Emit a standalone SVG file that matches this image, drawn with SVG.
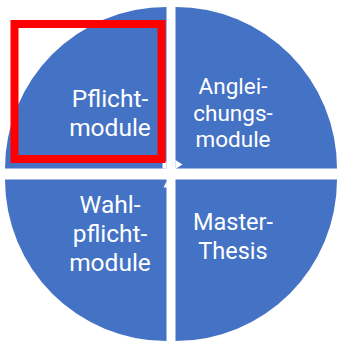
<svg xmlns="http://www.w3.org/2000/svg" width="337" height="344" viewBox="0 0 337 344">
<style>
.q{fill:#4472C4;}
.t{font-family:Roboto,"Open Sans","Liberation Sans",sans-serif;font-size:24.5px;fill:#FFFFFF;text-anchor:middle;}
.s{font-size:22.5px;}
.m{font-size:23.5px;}
.gap{fill:#FFFFFF;}
</style>
<rect width="337" height="344" fill="#FFFFFF"/>
<g id="node-pflichtmodule">
<path class="q" d="M166.5,168.5 L5,168.5 A161.5,161.5 0 0 1 166.5,7 Z"/>
<text class="t" x="110" y="107">Pflicht-</text>
<text class="t" x="110" y="136">module</text>
</g>
<g id="node-angleichungsmodule">
<path class="q" d="M175.5,168.5 L175.5,7 A161.5,161.5 0 0 1 337,168.5 Z"/>
<text class="t s" x="233" y="94">Anglei-</text>
<text class="t s" x="233" y="120.5">chungs-</text>
<text class="t s" x="233" y="147">module</text>
</g>
<g id="node-wahlpflichtmodule">
<path class="q" d="M166.5,179.5 L166.5,341 A161.5,161.5 0 0 1 5,179.5 Z"/>
<text class="t" x="110" y="213">Wahl-</text>
<text class="t" x="110" y="242">pflicht-</text>
<text class="t" x="110" y="271">module</text>
</g>
<g id="node-masterthesis">
<path class="q" d="M175.5,179.5 L337,179.5 A161.5,161.5 0 0 1 175.5,341 Z"/>
<text class="t m" x="233" y="230">Master-</text>
<text class="t m" x="233" y="259">Thesis</text>
</g>
<g id="connectors">
<polygon class="gap" points="162.5,161.5 166.6,161.5 166.6,168.6 162.5,168.6"/>
<polygon class="gap" points="175.4,160 182.5,164.5 175.4,169"/>
<polygon class="gap" points="163.5,187.5 166.8,181 166.8,187.5"/>
</g>
<rect id="highlight" x="14.5" y="24" width="147" height="135" fill="none" stroke="#FF0000" stroke-width="8"/>
</svg>
